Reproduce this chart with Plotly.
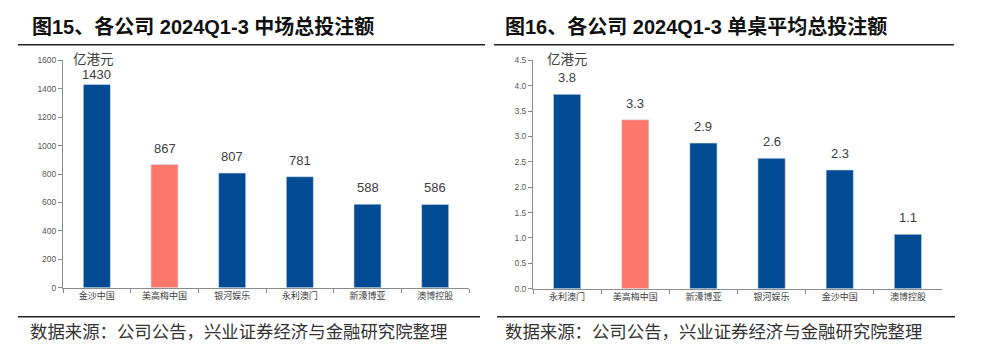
import plotly.graph_objects as go

# ---- data ----
left_categories = ["金沙中国", "美高梅中国", "银河娱乐", "永利澳门", "新濠博亚", "澳博控股"]
left_values = [1430, 867, 807, 781, 588, 586]
left_colors = ["#004B93", "#FF766A", "#004B93", "#004B93", "#004B93", "#004B93"]
left_ticks = [0, 200, 400, 600, 800, 1000, 1200, 1400, 1600]

right_categories = ["永利澳门", "美高梅中国", "新濠博亚", "银河娱乐", "金沙中国", "澳博控股"]
right_values = [3.83, 3.33, 2.87, 2.57, 2.34, 1.07]
right_colors = ["#004B93", "#FF766A", "#004B93", "#004B93", "#004B93", "#004B93"]
right_ticks = [0.0, 0.5, 1.0, 1.5, 2.0, 2.5, 3.0, 3.5, 4.0, 4.5]

left_title = "图15、各公司 2024Q1-3 中场总投注额"
right_title = "图16、各公司 2024Q1-3 单桌平均总投注额"
unit_label = "亿港元"
source_text = "数据来源：公司公告，兴业证券经济与金融研究院整理"

# label offsets above bars (pixels) - styling only
left_label_gap = [2, 8, 8, 8, 8, 8]
right_label_gap = [8, 8, 8, 8, 8, 8]

W, H = 988, 350
FONT = "Liberation Sans, Noto Sans CJK SC, Arial, sans-serif"

def px(x):
    return x / W

def py(y):
    return 1 - y / H

fig = go.Figure()

fig.add_trace(go.Bar(
    x=left_categories, y=left_values, xaxis="x", yaxis="y",
    marker=dict(color=left_colors, line=dict(color="#D8E0EC", width=0.6)),
    showlegend=False, hoverinfo="x+y",
))
fig.add_trace(go.Bar(
    x=right_categories, y=right_values, xaxis="x2", yaxis="y2",
    marker=dict(color=right_colors, line=dict(color="#D8E0EC", width=0.6)),
    showlegend=False, hoverinfo="x+y",
))

axis_common = dict(
    showgrid=False, zeroline=False, showline=True, linecolor="#8C8C8C", linewidth=1,
    ticks="outside", tickcolor="#8C8C8C", ticklen=4,
)

fig.update_layout(
    width=W, height=H, margin=dict(l=0, r=0, t=0, b=0),
    paper_bgcolor="white", plot_bgcolor="white",
    bargap=0.6,
    font=dict(family=FONT, color="#404040"),
    xaxis=dict(domain=[px(63), px(469)], anchor="y", type="category",
               tickson="boundaries",
               tickfont=dict(size=9, color="#404040", family="Noto Sans CJK SC"),
               **axis_common),
    yaxis=dict(domain=[py(291), py(57)], anchor="x", range=[0, 1600],
               tickvals=left_ticks, tickfont=dict(size=8.5, color="#595959"),
               **axis_common),
    xaxis2=dict(domain=[px(533), px(942)], anchor="y2", type="category",
                tickson="boundaries",
                tickfont=dict(size=9, color="#404040", family="Noto Sans CJK SC"),
                **axis_common),
    yaxis2=dict(domain=[py(292), py(57)], anchor="x2", range=[0, 4.5],
                tickvals=right_ticks, tickformat=".1f",
                tickfont=dict(size=8.5, color="#595959"),
                **axis_common),
)

annotations = [
    dict(text="<b>" + left_title + "</b>", x=px(31), y=py(22), xanchor="left", yanchor="middle",
         font=dict(size=20, color="#111111", family="Liberation Sans, Noto Sans CJK SC")),
    dict(text="<b>" + right_title + "</b>", x=px(504), y=py(22), xanchor="left", yanchor="middle",
         font=dict(size=20, color="#111111", family="Liberation Sans, Noto Sans CJK SC")),
    dict(text=unit_label, x=px(72), y=py(55), xanchor="left", yanchor="middle",
         font=dict(size=13.5, color="#404040", family="Noto Sans CJK SC")),
    dict(text=unit_label, x=px(546), y=py(55), xanchor="left", yanchor="middle",
         font=dict(size=13.5, color="#404040", family="Noto Sans CJK SC")),
    dict(text=source_text, x=px(29), y=py(335), xanchor="left", yanchor="middle",
         font=dict(size=17.4, color="#333333", family="Noto Sans CJK SC")),
    dict(text=source_text, x=px(504), y=py(335), xanchor="left", yanchor="middle",
         font=dict(size=17.4, color="#333333", family="Noto Sans CJK SC")),
]
for a in annotations:
    a.update(xref="paper", yref="paper", showarrow=False, borderpad=0)

for c, v, g in zip(left_categories, left_values, left_label_gap):
    annotations.append(dict(xref="x", yref="y", x=c, y=v, text=f"{v:.0f}", showarrow=False,
                            xanchor="center", yanchor="bottom", yshift=g, borderpad=0,
                            font=dict(size=13, color="#404040", family=FONT)))
for c, v, g in zip(right_categories, right_values, right_label_gap):
    annotations.append(dict(xref="x2", yref="y2", x=c, y=v, text=f"{v:.1f}", showarrow=False,
                            xanchor="center", yanchor="bottom", yshift=g, borderpad=0,
                            font=dict(size=13, color="#404040", family=FONT)))

fig.update_layout(annotations=annotations)

shapes = [
    (18, 485, 41), (494, 954, 41),
    (18, 480, 321), (497, 955, 321),
]
fig.update_layout(shapes=[
    dict(type="line", xref="paper", yref="paper", x0=px(a), x1=px(b), y0=py(y), y1=py(y),
         line=dict(color="#222222", width=1.5))
    for a, b, y in shapes
])

fig.write_html("out.html")
